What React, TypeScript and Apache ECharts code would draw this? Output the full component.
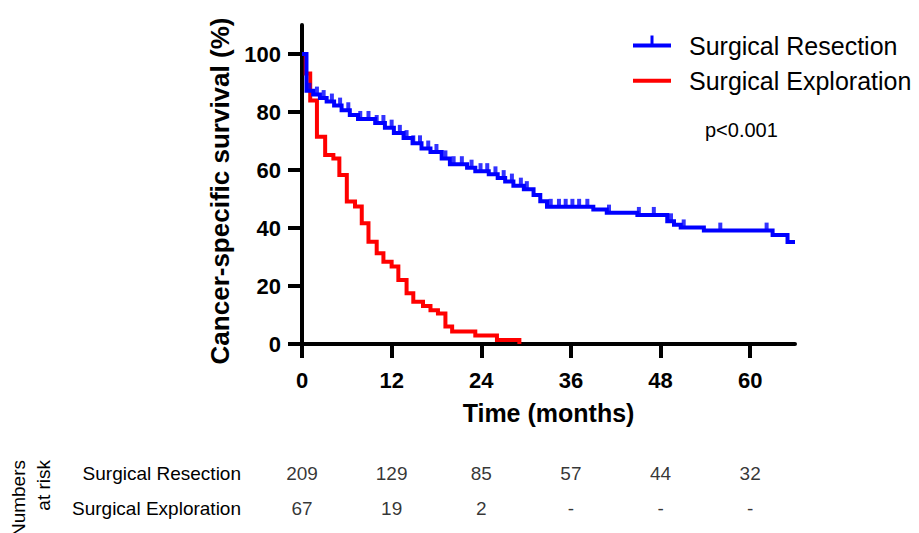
import React, { useEffect, useRef } from 'react';
import * as echarts from 'echarts';

// ---- data ----
const xTicks = [0, 12, 24, 36, 48, 60];
const yTicks = [0, 20, 40, 60, 80, 100];

const resectionTimes = [0, 0.6, 1.5, 2.4, 3.3, 4.3, 5.3, 6.4, 7.5, 9.8, 11.1, 12.3, 13.6, 14.8, 16.0, 17.2, 18.7, 19.8, 22.1, 23.2, 25.0, 26.2, 27.2, 28.3, 29.7, 31.0, 31.9, 32.8, 39.0, 40.8, 44.9, 48.9, 49.8, 50.7, 53.8, 63.0, 65.0, 66.0];
const resectionSurv = [100, 87.3, 86.0, 84.8, 83.6, 82.2, 80.6, 79.0, 77.6, 76.2, 74.6, 72.8, 71.0, 69.2, 67.4, 66.2, 64.0, 62.0, 60.8, 59.6, 58.5, 57.2, 56.0, 54.6, 53.4, 51.4, 49.2, 47.3, 46.4, 45.3, 44.5, 42.3, 41.1, 40.2, 39.1, 37.6, 35.2, 35.2];
const resectionCensorTimes = [1.0, 2.0, 2.9, 4.0, 5.1, 6.2, 7.8, 8.9, 10.0, 10.9, 12.0, 13.1, 14.0, 14.9, 15.8, 16.9, 18.0, 19.2, 20.3, 21.4, 22.7, 23.9, 24.8, 25.9, 27.0, 28.1, 29.3, 30.1, 33.3, 34.4, 35.3, 36.2, 37.1, 38.2, 41.1, 45.1, 47.1, 49.4, 51.1, 56.0, 62.2];

const explorationTimes = [0, 0.5, 1.1, 2.0, 3.1, 4.2, 5.0, 6.0, 7.1, 8.0, 8.9, 10.0, 10.9, 12.0, 12.9, 14.0, 14.9, 16.2, 17.2, 18.2, 19.2, 20.1, 23.2, 26.1, 29.1, 29.1];
const explorationSurv = [100, 93.3, 84.0, 71.5, 65.2, 64.0, 58.3, 49.1, 47.4, 41.6, 35.3, 31.3, 28.4, 26.7, 22.1, 17.5, 14.6, 13.1, 11.6, 10.5, 6.0, 4.3, 2.9, 1.4, 1.4, 0];

const riskRows = ['Surgical Resection', 'Surgical Exploration'];
const riskResection = ['209', '129', '85', '57', '44', '32'];
const riskExploration = ['67', '19', '2', '-', '-', '-'];

const FONT = '"Liberation Sans", Arial, Helvetica, sans-serif';
const BLUE = '#0000FF';
const RED = '#FF0000';

function survAt(times: number[], surv: number[], t: number) {
  let s = surv[0];
  for (let i = 0; i < times.length; i++) if (times[i] <= t) s = surv[i];
  return s;
}

export default function App() {
  const ref = useRef<HTMLDivElement>(null);
  useEffect(() => {
    if (!ref.current) return;
    const chart = echarts.init(ref.current, undefined, { renderer: 'svg' });
    const blueData = resectionTimes.map((t, i) => [t, resectionSurv[i]]);
    const redData = explorationTimes.map((t, i) => [t, explorationSurv[i]]);
    const censorData = resectionCensorTimes.map((t) => [t, survAt(resectionTimes, resectionSurv, t)]);
    const riskSeries = (row: string, texts: string[]) => ({
      type: 'scatter',
      xAxisIndex: 1,
      yAxisIndex: 1,
      silent: true,
      symbolSize: 0,
      itemStyle: { color: 'rgba(0,0,0,0)' },
      data: xTicks.map((t) => [t, row]),
      label: {
        show: true,
        position: 'inside',
        formatter: (p: any) => texts[p.dataIndex],
        fontSize: 19,
        color: '#000',
        fontFamily: FONT,
      },
    });
    const axisLineStyle = { color: '#000', width: 4 };
    chart.setOption({
      animation: false,
      backgroundColor: '#ffffff',
      grid: [
        { left: 302, right: 124, top: 25, bottom: 189 },
        { left: 302, right: 124, top: 455.5, height: 70 },
      ],
      xAxis: [
        {
          type: 'value',
          gridIndex: 0,
          min: 0,
          max: 66,
          interval: 12,
          axisLine: { show: true, lineStyle: axisLineStyle },
          axisTick: { show: true, length: 14, lineStyle: axisLineStyle, customValues: xTicks },
          axisLabel: { customValues: xTicks, margin: 25, fontSize: 22, fontWeight: 'bold', color: '#000', fontFamily: FONT },
          splitLine: { show: false },
          name: 'Time (months)',
          nameLocation: 'middle',
          nameGap: 56,
          nameTextStyle: { fontSize: 25, fontWeight: 'bold', color: '#000', fontFamily: FONT },
        },
        { type: 'value', gridIndex: 1, min: 0, max: 66, show: false },
      ],
      yAxis: [
        {
          type: 'value',
          gridIndex: 0,
          min: 0,
          max: 110,
          interval: 20,
          axisLine: { show: true, lineStyle: axisLineStyle },
          axisTick: { show: true, length: 14, lineStyle: axisLineStyle, customValues: yTicks },
          axisLabel: { customValues: yTicks, margin: 21, fontSize: 22, fontWeight: 'bold', color: '#000', fontFamily: FONT },
          splitLine: { show: false },
        },
        {
          type: 'category',
          gridIndex: 1,
          data: riskRows,
          inverse: true,
          axisLine: { show: false },
          axisTick: { show: false },
          splitLine: { show: false },
          axisLabel: { margin: 61, fontSize: 19, color: '#000', fontFamily: FONT },
        },
      ],
      legend: {
        orient: 'vertical',
        left: 628,
        top: 28,
        padding: 5,
        itemWidth: 51,
        itemHeight: 20,
        itemGap: 10.3,
        selectedMode: false,
        itemStyle: { borderWidth: 0 },
        textStyle: { fontSize: 25, color: '#000', fontFamily: FONT, lineHeight: 25 },
        data: [
          { name: 'Surgical Resection', icon: 'path://M0,8L38,8L38,12L0,12Z M17.5,0L20.5,0L20.5,8L17.5,8Z M0,0L0,0Z M51,20L51,20Z' },
          { name: 'Surgical Exploration', icon: 'path://M0,8L38,8L38,12L0,12Z M0,0L0,0Z M51,20L51,20Z' },
        ],
      },
      graphic: [
        {
          type: 'text',
          x: 220,
          y: 191,
          rotation: Math.PI / 2,
          style: { text: 'Cancer-specific survival (%)', fontSize: 26, fontWeight: 'bold', fill: '#000', fontFamily: FONT, align: 'center', verticalAlign: 'middle' },
        },
        {
          type: 'text',
          x: 705,
          y: 130,
          style: { text: 'p<0.001', fontSize: 20, fill: '#000', fontFamily: FONT, align: 'left', verticalAlign: 'middle' },
        },
        {
          type: 'text',
          x: 18,
          y: 460,
          rotation: Math.PI / 2,
          style: { text: 'Numbers', fontSize: 19, fill: '#000', fontFamily: FONT, align: 'right', verticalAlign: 'middle' },
        },
        {
          type: 'text',
          x: 43,
          y: 460,
          rotation: Math.PI / 2,
          style: { text: 'at risk', fontSize: 19, fill: '#000', fontFamily: FONT, align: 'right', verticalAlign: 'middle' },
        },
      ],
      series: [
        {
          type: 'line',
          name: 'Surgical Exploration',
          xAxisIndex: 0,
          yAxisIndex: 0,
          data: redData,
          step: 'end',
          symbol: 'none',
          color: RED,
          lineStyle: { width: 4, color: RED, join: 'miter', cap: 'butt' },
          z: 2,
        },
        {
          type: 'line',
          name: 'Surgical Resection',
          xAxisIndex: 0,
          yAxisIndex: 0,
          data: blueData,
          step: 'end',
          symbol: 'none',
          color: BLUE,
          lineStyle: { width: 4, color: BLUE, join: 'miter', cap: 'butt' },
          z: 3,
        },
        {
          type: 'scatter',
          name: 'censored',
          xAxisIndex: 0,
          yAxisIndex: 0,
          data: censorData,
          symbol: 'rect',
          symbolSize: [4, 8],
          symbolOffset: [0, -4],
          itemStyle: { color: BLUE },
          silent: true,
          z: 4,
        },
        riskSeries(riskRows[0], riskResection),
        riskSeries(riskRows[1], riskExploration),
      ],
    });
    return () => chart.dispose();
  }, []);
  return <div ref={ref} style={{ position: 'fixed', left: 0, top: 0, width: 919, height: 533, background: '#fff' }} />;
}
